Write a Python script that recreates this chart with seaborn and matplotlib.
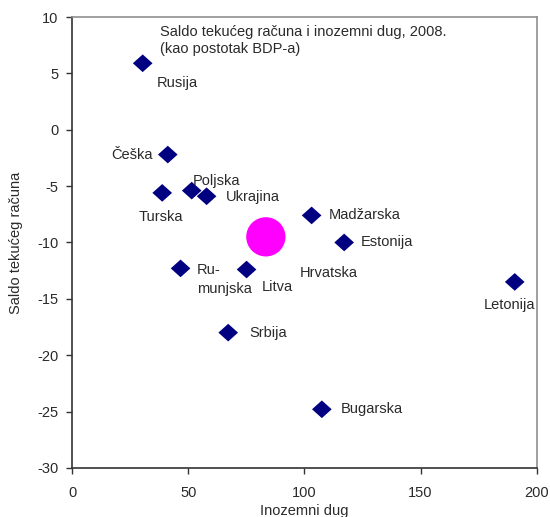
import pandas as pd
import seaborn as sns
import matplotlib.pyplot as plt

# country data: foreign debt (% of GDP) vs current account balance (% of GDP)
countries = ["Rusija", "Češka", "Turska", "Poljska", "Ukrajina", "Madžarska",
             "Estonija", "Ru-\nmunjska", "Litva", "Srbija", "Bugarska", "Letonija"]
debt = [30.4, 41.2, 38.8, 51.5, 57.9, 103.1, 117.1, 46.7, 75.1, 67.2, 107.5, 190.5]
balance = [5.9, -2.2, -5.6, -5.4, -5.9, -7.6, -10.0, -12.3, -12.4, -18.0, -24.8, -13.5]

hr_name = "Hrvatska"
hr_debt = [83.4]
hr_balance = [-9.5]

# label offsets in pixels (dx, dy)
offsets = {
    "Rusija": (14, -20, "left"), "Češka": (-15, 0, "right"), "Turska": (-24, -24, "left"),
    "Poljska": (1, 10, "left"), "Ukrajina": (19, -1, "left"), "Madžarska": (17, 0, "left"),
    "Estonija": (17, 0, "left"), "Ru-\nmunjska": (16, -11, "left"), "Litva": (15, -17, "left"),
    "Srbija": (21, 0, "left"), "Bugarska": (19, 0, "left"), "Letonija": (-31, -23, "left"),
}

df = pd.DataFrame({"country": countries, "debt": debt, "balance": balance})
hr = pd.DataFrame({"debt": hr_debt, "balance": hr_balance})

sns.set_style("white")
plt.rcParams["font.family"] = ["Liberation Sans", "DejaVu Sans"]
plt.rcParams["axes.unicode_minus"] = False

fs = 10.5
txt = "#2a2a2a"

fig = plt.figure(figsize=(5.5, 5.17), dpi=100)
ax = fig.add_axes([0.131, 0.095, 0.845, 0.872])

diamond = [(-1, 0), (0, 0.9), (1, 0), (0, -0.9), (-1, 0)]
sns.scatterplot(data=df, x="debt", y="balance", marker=diamond, s=200,
                color="#000080", edgecolor="none", ax=ax, zorder=3)
sns.scatterplot(data=hr, x="debt", y="balance", marker="o", s=800,
                color="#ff00ff", edgecolor="none", ax=ax, zorder=3)

for name, x, y in zip(countries, debt, balance):
    dx, dy, ha = offsets[name]
    ax.annotate(name, (x, y), xytext=(dx, dy), textcoords="offset pixels",
                ha=ha, va="center", fontsize=fs, color=txt, linespacing=1.45)
ax.annotate(hr_name, (hr_debt[0], hr_balance[0]), xytext=(34, -36),
            textcoords="offset pixels", ha="left", va="center",
            fontsize=fs, color=txt)

ax.text(0.189, 0.982, "Saldo tekućeg računa i inozemni dug, 2008.\n(kao postotak BDP-a)",
        transform=ax.transAxes, ha="left", va="top", fontsize=fs,
        color=txt, linespacing=1.25)

ax.set_xlim(0, 200)
ax.set_ylim(-30, 10)
ax.set_xticks([0, 50, 100, 150, 200])
ax.set_yticks(range(-30, 11, 5))
ax.set_xlabel("Inozemni dug", fontsize=fs, color=txt, labelpad=3)
ax.set_ylabel("Saldo tekućeg računa", fontsize=fs, color=txt, labelpad=10)

for side in ["left", "bottom"]:
    ax.spines[side].set_color("#333333")
    ax.spines[side].set_linewidth(1.2)
for side in ["top", "right"]:
    ax.spines[side].set_color("#909090")
    ax.spines[side].set_linewidth(1.2)

ax.tick_params(axis="both", which="major", bottom=True, left=True, direction="out",
               length=4, width=1, color="#333333", labelsize=fs, labelcolor=txt)
ax.tick_params(axis="y", pad=6)
ax.tick_params(axis="x", pad=9)

fig.savefig("out.png", dpi=100)
